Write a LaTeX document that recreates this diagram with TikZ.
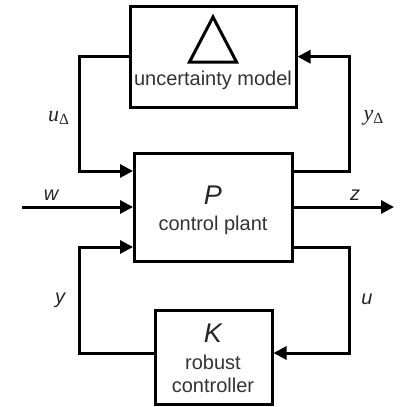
\documentclass[tikz,border=0pt]{standalone}
\usepackage{fontspec}
\setmainfont{Liberation Sans}
\newfontfamily\lserif{Liberation Serif}
\usetikzlibrary{arrows.meta}
\begin{document}
\begin{tikzpicture}[x=0.5pt,y=-0.5pt,
  blk/.style={draw=black,line width=1.5pt,inner sep=0pt},
  wire/.style={line width=1.5pt,line join=miter},
  arr/.style={wire,-{Triangle[length=6.5pt,width=6.5pt]}},
  txt/.style={text=black!80,font=\fontsize{10}{12}\selectfont,inner sep=0pt},
  big/.style={text=black!85,font=\fontsize{13.5}{15}\selectfont\itshape,inner sep=0pt},
  lab/.style={text=black!85,font=\fontsize{10}{12}\selectfont\itshape,inner sep=0pt},
  slab/.style={text=black!85,font=\lserif\fontsize{11}{13}\selectfont\itshape,inner sep=0pt}]
\useasboundingbox (0,0) rectangle (400,407);
% blocks
\node[blk,minimum width=83pt,minimum height=50.5pt] (U) at (213,56.7) {};
\node[blk,minimum width=78.75pt,minimum height=54pt] (P) at (213.25,207) {};
\node[blk,minimum width=58.25pt,minimum height=46.75pt] (K) at (213.75,357.25) {};
% triangle
\coordinate (ta) at (213,17);
\coordinate (tb) at (189.5,62);
\coordinate (tc) at (236.5,62);
\draw[line width=1.5pt,line join=miter] (ta) -- (tb) -- (tc) -- cycle;
% texts
\node[txt] (ut) at (213,80) {uncertainty model};
\node[big] (pl) at (213,195) {P};
\node[txt] (pt) at (213,225) {control plant};
\node[big] (kl) at (213,333) {K};
\node[txt] (kt1) at (213,362) {robust};
\node[txt] (kt2) at (213,385) {controller};
% labels
\node[slab] (lud) at (59,118) {u\textsubscript{\upshape Δ}};
\node[slab] (lyd) at (374,118) {y\textsubscript{\upshape Δ}};
\node[lab] (lw) at (51,195) {w};
\node[lab] (lz) at (355,195) {z};
\node[lab] (ly) at (60,300) {y};
\node[lab] (lu) at (367,299) {u};
% coordinates
\coordinate (xl) at (79,0);
\coordinate (xr) at (349,0);
\coordinate (y1) at (0,171);
\coordinate (y3) at (0,247);
\coordinate (y4) at (0,353);
\coordinate (win) at (22,207);
\coordinate (zout) at (394,207);
% connectors
\draw[arr] (U.west) -- (U.west -| xl) |- (P.west |- y1);
\draw[arr] (P.east |- y1) -| (xr |- U.east) -- (U.east);
\draw[arr] (win) -- (P.west);
\draw[arr] (P.east) -- (zout);
\draw[arr] (P.east |- y3) -| (xr |- y4) -- (K.east |- y4);
\draw[arr] (K.west |- y4) -| (xl |- y3) -- (P.west |- y3);
\end{tikzpicture}
\end{document}
